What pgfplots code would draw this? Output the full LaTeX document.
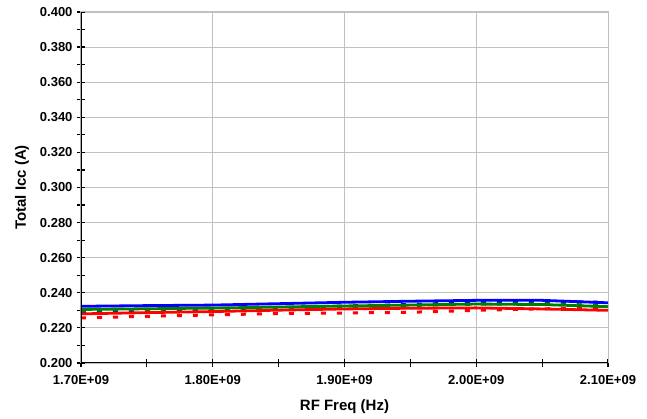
\documentclass[border=0pt]{standalone}
\usepackage{pgfplots}
\pgfplotsset{compat=1.18}
\usepackage{fontspec}
\setmainfont{Liberation Sans}
\usetikzlibrary{calc}
\definecolor{gridgray}{RGB}{192,192,192}
\definecolor{xblue}{RGB}{0,0,255}
\definecolor{xgreen}{RGB}{0,128,0}
\definecolor{xred}{RGB}{255,0,0}
\begin{document}
\begin{tikzpicture}
\begin{axis}[
  scale only axis,
  width=527pt, height=351pt,
  xmin=1.7, xmax=2.1, ymin=0.2, ymax=0.4,
  xtick={1.7,1.8,1.9,2.0,2.1},
  xticklabels={1.70E+09,1.80E+09,1.90E+09,2.00E+09,2.10E+09},
  minor xtick={1.75,1.85,1.95,2.05},
  ytick={0.2,0.22,...,0.401},
  minor ytick={0.21,0.23,...,0.40},
  yticklabel style={xshift=-1pt},
  /pgf/number format/fixed,
  /pgf/number format/fixed zerofill,
  /pgf/number format/precision=3,
  /pgf/number format/assume math mode=true,
  tick label style={font=\bfseries\fontsize{13}{15}\selectfont, text=black},
  xticklabel style={yshift=-5pt},
  label style={font=\bfseries\fontsize{15}{17}\selectfont},
  xlabel={RF Freq (Hz)},
  ylabel={Total Icc (A)},
  xlabel style={yshift=-8pt},
  ylabel style={yshift=4pt},
  grid=major,
  major grid style={gridgray, line width=0.8pt},
  axis line style={gridgray, line width=1pt},
  tick pos=left,
  tick align=center,
  major tick length=8pt,
  minor tick length=8pt,
  every tick/.style={black, line width=1.2pt},
  every minor tick/.style={black, line width=1.2pt},
  clip=true,
]
\addplot[xred, line width=3pt, dash pattern=on 5pt off 11pt] coordinates {
(1.70,0.2257) (1.75,0.2266) (1.80,0.2274) (1.85,0.2282) (1.90,0.2285) (1.95,0.2289) (2.00,0.2300) (2.05,0.2309) (2.10,0.2310)};
\addplot[xblue, line width=3pt, dash pattern=on 5pt off 11pt] coordinates {
(1.70,0.2290) (1.75,0.2295) (1.80,0.2300) (1.85,0.2312) (1.90,0.2325) (1.95,0.2333) (2.00,0.2345) (2.05,0.2352) (2.10,0.2345)};
\addplot[xgreen, line width=3pt, dash pattern=on 5pt off 11pt] coordinates {
(1.70,0.2300) (1.75,0.2305) (1.80,0.2310) (1.85,0.2316) (1.90,0.2322) (1.95,0.2328) (2.00,0.2335) (2.05,0.2338) (2.10,0.2327)};
\addplot[xred, line width=2.8pt] coordinates {
(1.70,0.2280) (1.75,0.2287) (1.80,0.2293) (1.85,0.2301) (1.90,0.2308) (1.95,0.2312) (2.00,0.2314) (2.05,0.2308) (2.10,0.2300)};
\addplot[xgreen, line width=2.8pt] coordinates {
(1.70,0.2305) (1.75,0.2309) (1.80,0.2313) (1.85,0.2319) (1.90,0.2325) (1.95,0.2330) (2.00,0.2336) (2.05,0.2333) (2.10,0.2321)};
\addplot[xblue, line width=2.8pt] coordinates {
(1.70,0.2323) (1.75,0.2327) (1.80,0.2330) (1.85,0.2338) (1.90,0.2346) (1.95,0.2352) (2.00,0.2357) (2.05,0.2357) (2.10,0.2343)};
\draw[black, line width=1.5pt] (rel axis cs:0,0) -- (rel axis cs:0,1);
\draw[black, line width=1.5pt] (rel axis cs:0,0) -- (rel axis cs:1,0);
\end{axis}
\pgfresetboundingbox
\path[use as bounding box] ($(current axis.south west)+(-81pt,-56pt)$) rectangle ($(current axis.north east)+(39pt,12pt)$);
\end{tikzpicture}
\end{document}
